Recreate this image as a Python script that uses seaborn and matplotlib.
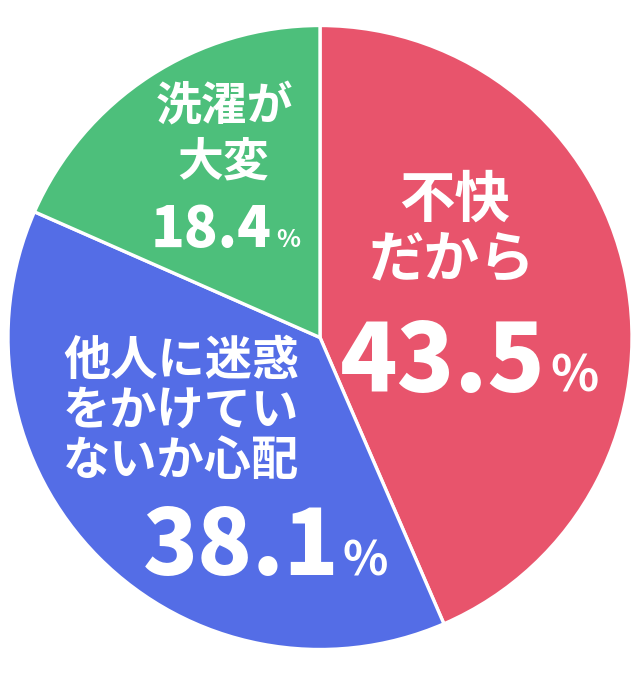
import matplotlib
matplotlib.use("Agg")
import matplotlib.pyplot as plt
import seaborn as sns

# data
labels = ["不快\nだから", "他人に迷惑\nをかけてい\nないか心配", "洗濯が\n大変"]
values = [43.5, 38.1, 18.4]
colors = ["#E8546C", "#546DE6", "#4DBF7B"]

sns.set_theme(style="white")
plt.rcParams["font.family"] = ["Noto Sans CJK JP", "DejaVu Sans"]

W, H = 637, 700
fig = plt.figure(figsize=(W / 100, H / 100), dpi=100)
cx, cy, r = 320, 337.5, 312
ax = fig.add_axes([(cx - r) / W, (H - cy - r) / H, 2 * r / W, 2 * r / H])

ax.pie(values, colors=colors, startangle=90, counterclock=False, radius=1,
       wedgeprops=dict(edgecolor="white", linewidth=2.4))
ax.set_xlim(-1, 1)
ax.set_ylim(-1, 1)
ax.set_aspect("equal")
ax.axis("off")


def px(x, y):
    # pixel position in the picture -> data coords
    return (x - cx) / r, (cy - y) / r


# label layout (pixel centres of each line, font size), percent layout
label_pos = [
    ([(455, 201), (452, 260)], 40),
    ([(181, 361), (181, 411), (181, 461)], 34),
    ([(225, 108), (223, 162)], 33),
]
pct_pos = [((546, 392), 68, 36), ((339, 575), 65, 34), ((272, 247), 40, 18)]

for lab, (lines, fs) in zip(labels, label_pos):
    for line, (x, y) in zip(lab.split("\n"), lines):
        ax.text(*px(x, y), line, ha="center", va="center", fontsize=fs,
                fontweight="bold", color="white")

for v, ((x, y), fs, fs2) in zip(values, pct_pos):
    ax.text(*px(x, y), f"{v:.1f}", ha="right", va="baseline", fontsize=fs,
            fontweight="black", color="white")
    ax.text(*px(x + 4, y), "%", ha="left", va="baseline", fontsize=fs2,
            fontweight="bold", color="white")

fig.savefig("out.png", dpi=100, facecolor="white")
